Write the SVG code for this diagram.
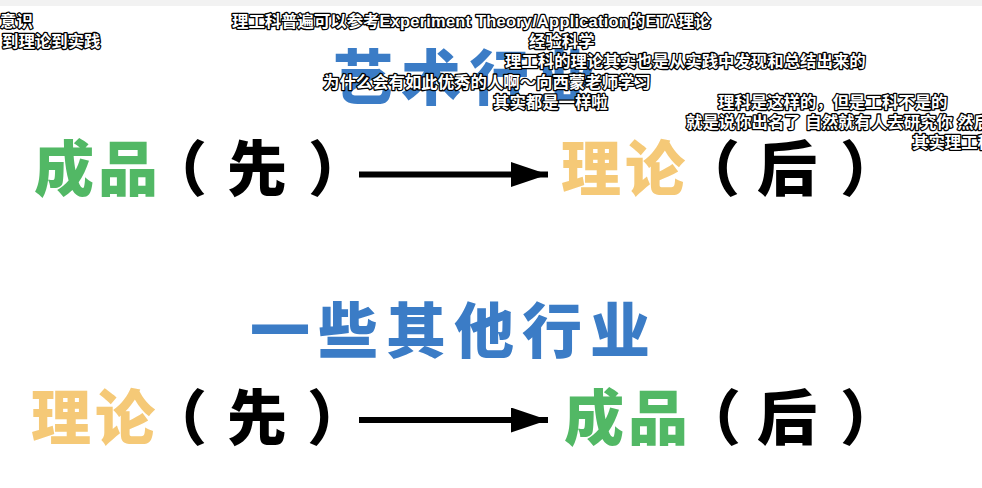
<svg xmlns="http://www.w3.org/2000/svg" width="982" height="488" viewBox="0 0 982 488">
<style>
.big{font-family:"Noto Sans CJK SC","Noto Sans",sans-serif;font-weight:900;font-size:60px}
.head{font-family:"Noto Sans CJK SC","Noto Sans",sans-serif;font-weight:900;font-size:60px;fill:#3b7cc6;letter-spacing:8px}
.g{fill:#52b865}
.y{fill:#f5c977}
.k{fill:#000}
.dm{font-family:"Liberation Sans","Noto Sans CJK SC",sans-serif;font-weight:700;font-size:16.4px;fill:#fff;stroke:#000;stroke-width:2.6px;paint-order:stroke;stroke-linejoin:round}
</style>
<defs>
<marker id="ah" viewBox="0 0 37 25" refX="37" refY="12.5" markerWidth="37" markerHeight="25" markerUnits="userSpaceOnUse" orient="auto">
<path d="M0 0 L37 12.5 L0 25 Z" fill="#000"/>
</marker>
</defs>
<rect x="0" y="0" width="982" height="488" fill="#fff"/>
<rect x="0" y="0" width="982" height="6" fill="#f2f2f2"/>
<g id="heading-art"><text class="head" x="333" y="100">艺术行业</text></g>
<g id="heading-other"><text class="head" x="250" y="353">一些其他行业</text></g>
<g id="row1-left">
<text class="big g" x="34" y="191" letter-spacing="4">成品</text>
<text class="big k" x="177" y="191" text-anchor="middle">（</text>
<text class="big k" x="257" y="191" text-anchor="middle">先</text>
<text class="big k" x="338" y="191" text-anchor="middle">）</text>
</g>
<g id="row1-right">
<text class="big y" x="561" y="191" letter-spacing="4">理论</text>
<text class="big k" x="710" y="191" text-anchor="middle">（</text>
<text class="big k" x="787" y="191" text-anchor="middle">后</text>
<text class="big k" x="870" y="191" text-anchor="middle">）</text>
</g>
<g id="row2-left">
<text class="big y" x="31" y="440" letter-spacing="4">理论</text>
<text class="big k" x="177" y="440" text-anchor="middle">（</text>
<text class="big k" x="257" y="440" text-anchor="middle">先</text>
<text class="big k" x="337" y="440" text-anchor="middle">）</text>
</g>
<g id="row2-right">
<text class="big g" x="564" y="440" letter-spacing="4">成品</text>
<text class="big k" x="711" y="440" text-anchor="middle">（</text>
<text class="big k" x="787" y="440" text-anchor="middle">后</text>
<text class="big k" x="870" y="440" text-anchor="middle">）</text>
</g>
<g id="connectors" stroke="#000" stroke-width="6" fill="none">
<line x1="359" y1="174.5" x2="548" y2="174.5" marker-end="url(#ah)"/>
<line x1="359" y1="420" x2="548" y2="420" marker-end="url(#ah)"/>
</g>
<g id="danmaku">
<text class="dm" x="0" y="27">意识</text>
<text class="dm" x="2" y="47">到理论到实践</text>
<text class="dm" x="232" y="27">理工科普遍可以参考<tspan letter-spacing="0.25">Experiment Theory/Application</tspan>的<tspan letter-spacing="0.25">ETA</tspan>理论</text>
<text class="dm" x="529" y="47">经验科学</text>
<text class="dm" x="505" y="67">理工科的理论其实也是从实践中发现和总结出来的</text>
<text class="dm" x="323" y="88">为什么会有如此优秀的人啊～向西蒙老师学习</text>
<text class="dm" x="493" y="108">其实都是一样啦</text>
<text class="dm" x="718" y="108">理科是这样的，但是工科不是的</text>
<text class="dm" x="686" y="128">就是说你出名了 自然就有人去研究你 然后</text>
<text class="dm" x="912" y="148">其实理工科</text>
</g>
</svg>
